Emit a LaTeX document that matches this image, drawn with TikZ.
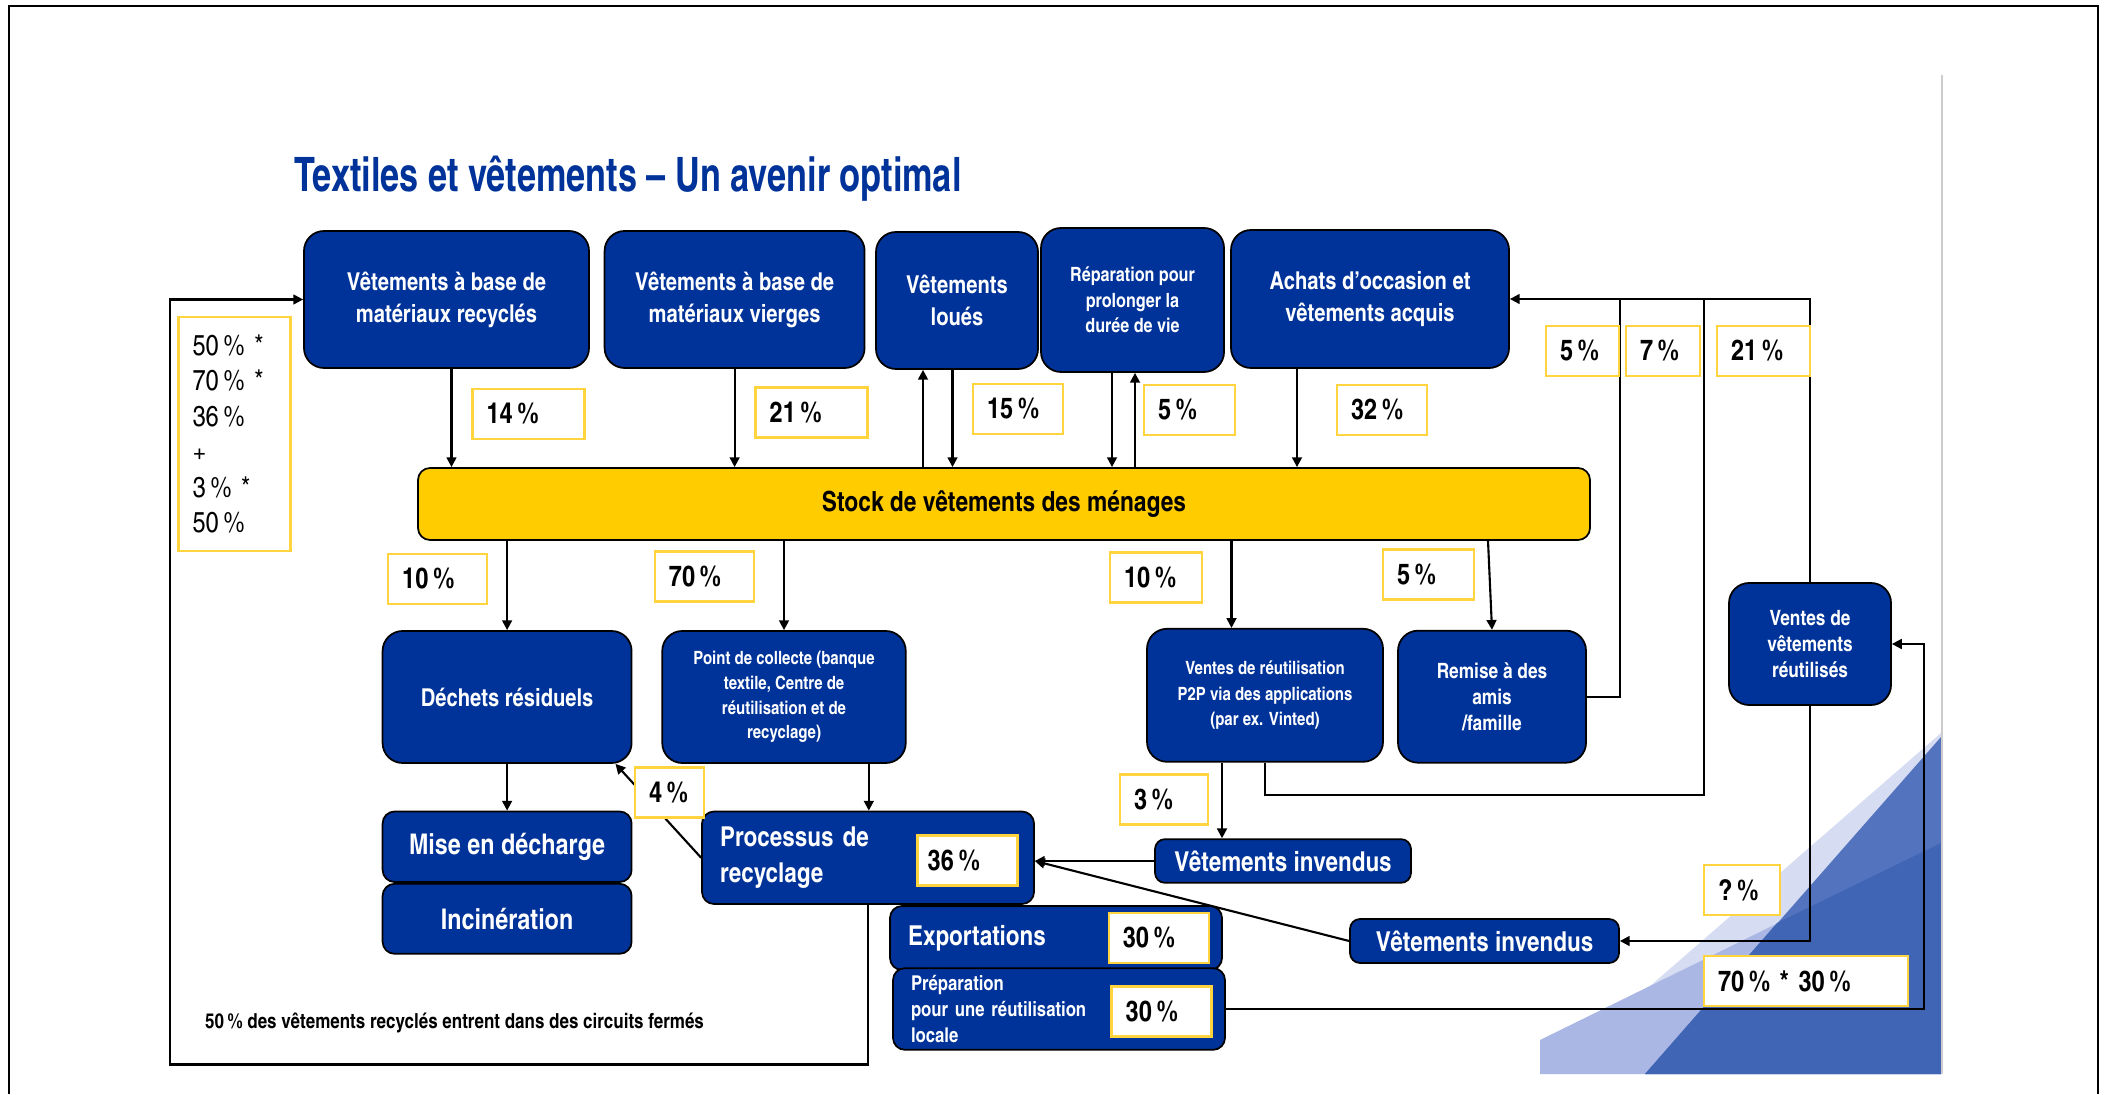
\documentclass[tikz,border=0pt]{standalone}
\usepackage{fontspec}
\setmainfont{texgyreheroscn}[Extension=.otf, UprightFont=*-regular, BoldFont=*-bold,
  ItalicFont=*-italic, BoldItalicFont=*-bolditalic]
\usepackage{graphicx}
\usepackage{xcolor}
\usetikzlibrary{arrows.meta,positioning}
\definecolor{boxblue}{HTML}{003399}
\definecolor{stockyellow}{HTML}{FFCC00}
\definecolor{pctyellow}{HTML}{FFD43F}
\definecolor{triA}{HTML}{D6DCF2}
\definecolor{triB}{HTML}{AAB7E4}
\definecolor{triC}{HTML}{5373BE}
\definecolor{triD}{HTML}{4065B4}

\begin{document}
\begin{tikzpicture}[
  box/.style={draw, line width=0.5pt, fill=boxblue, rounded corners=0.2cm, text=white, align=center, inner sep=0pt},
  thin/.style={rounded corners=0.12cm},
  mid/.style={font=\bfseries\fontsize{7}{9.1}\selectfont},
  sml/.style={font=\bfseries\fontsize{5.6}{7.3}\selectfont},
  lrg/.style={font=\bfseries\fontsize{7.8}{10.2}\selectfont},
  pct/.style={draw=pctyellow, line width=0.7pt, fill=white, align=left, inner xsep=0.14cm, inner ysep=0pt,
    minimum height=0.5cm, font=\bfseries\fontsize{8.2}{9.6}\selectfont},
  arr/.style={-{Triangle[length=2.8pt,width=2.8pt]}, line width=0.6pt},
  wire/.style={line width=0.6pt}
]
\useasboundingbox (0,0) rectangle (21.05,10.94);

\fill[triA] (15.49,0.20) -- (19.41,3.61) -- (19.41,0.20) -- cycle;
\fill[triB] (15.40,0.54) -- (19.41,2.51) -- (19.41,0.20) -- (15.40,0.20) -- cycle;
\fill[triC] (16.45,0.20) -- (19.41,3.57) -- (19.41,0.20) -- cycle;
\fill[triD] (16.45,0.20) -- (17.77,1.71) -- (19.41,2.51) -- (19.41,0.20) -- cycle;
\draw[black!20, line width=0.6pt] (19.42,10.19) -- (19.42,0.20);
\draw[line width=0.7pt] (0.09,0) -- (0.09,10.88) -- (20.98,10.88) -- (20.98,0);

\node[anchor=base west, inner sep=0pt, text=boxblue, font=\bfseries\fontsize{13.5}{16}\selectfont] (title) at (2.935,9.02)
  {\scalebox{0.88}[1]{Textiles et vêtements – Un avenir optimal}};

\node[box, mid, minimum width=2.85cm, minimum height=1.37cm] (rec) at (4.465,7.945) {Vêtements à base de\\matériaux recyclés};
\node[box, mid, minimum width=2.60cm, minimum height=1.37cm] (vier) at (7.346,7.945) {Vêtements à base de\\matériaux vierges};
\node[box, mid, minimum width=1.62cm, minimum height=1.37cm] (loue) at (9.57,7.935) {Vêtements\\loués};
\node[box, sml, minimum width=1.83cm, minimum height=1.44cm] (repa) at (11.325,7.94) {Réparation pour\\prolonger la\\durée de vie};
\node[box, mid, minimum width=2.78cm, minimum height=1.38cm] (occ) at (13.70,7.95) {Achats d'occasion et\\vêtements acquis};

\node[draw, line width=0.5pt, fill=stockyellow, rounded corners=0.12cm, minimum width=11.72cm, minimum height=0.72cm,
  font=\bfseries\fontsize{7.9}{9}\selectfont] (stock) at (10.04,5.90) {Stock de vêtements des ménages};

\node[box, mid, minimum width=2.49cm, minimum height=1.32cm] (dech) at (5.071,3.97) {Déchets résiduels};
\node[box, sml, font=\bfseries\fontsize{5.2}{7}\selectfont, minimum width=2.435cm, minimum height=1.32cm] (coll) at (7.84,3.97)
  {Point de collecte (banque\\textile, Centre de\\réutilisation et de\\recyclage)};
\node[box, sml, font=\bfseries\fontsize{5.2}{7.25}\selectfont, minimum width=2.36cm, minimum height=1.33cm] (p2p) at (12.65,3.987)
  {Ventes de réutilisation\\P2P via des applications\\(par ex. Vinted)};
\node[box, sml, font=\bfseries\fontsize{6}{7.5}\selectfont, minimum width=1.88cm, minimum height=1.32cm] (remise) at (14.92,3.973)
  {Remise à des\\amis\\/famille};
\node[box, sml, font=\bfseries\fontsize{6}{7.4}\selectfont, minimum width=1.62cm, minimum height=1.22cm] (vr) at (18.10,4.50)
  {Ventes de\\vêtements\\réutilisés};

\node[box, thin, lrg, font=\bfseries\fontsize{8.1}{10.2}\selectfont, minimum width=2.49cm, minimum height=0.705cm] (mise) at (5.071,2.4725) {Mise en décharge};
\node[box, thin, lrg, font=\bfseries\fontsize{8.1}{10.2}\selectfont, minimum width=2.49cm, minimum height=0.70cm] (inc) at (5.071,1.752) {Incinération};
\node[box, thin, lrg, align=left, text width=2.96cm, inner xsep=0.18cm, minimum height=0.925cm] (proc) at (8.68,2.3625)
  {Processus de\\recyclage};
\node[box, lrg, rounded corners=0.1cm, minimum width=2.56cm, minimum height=0.437cm] (inv1) at (12.83,2.33) {Vêtements invendus};
\node[box, lrg, rounded corners=0.1cm, minimum width=2.69cm, minimum height=0.44cm] (inv2) at (14.845,1.53) {Vêtements invendus};
\node[box, thin, lrg, align=left, text width=2.96cm, inner xsep=0.18cm, minimum height=0.64cm] (exp) at (10.56,1.56) {Exportations};
\node[box, thin, sml, font=\bfseries\fontsize{5.8}{7.5}\selectfont, align=left, text width=2.96cm, inner xsep=0.18cm,
  minimum height=0.817cm] (prep) at (10.59,0.85) {Préparation\\pour une réutilisation\\locale};

\draw[arr] ([xshift=0.05cm]rec.south) -- ([xshift=0.05cm]rec.south |- stock.north);
\draw[arr] (vier.south) -- (vier.south |- stock.north);
\draw[arr] ([xshift=-0.34cm]loue.south |- stock.north) -- ([xshift=-0.34cm]loue.south);
\draw[arr] ([xshift=-0.045cm]loue.south) -- ([xshift=-0.045cm]loue.south |- stock.north);
\draw[arr] ([xshift=-0.205cm]repa.south) -- ([xshift=-0.205cm]repa.south |- stock.north);
\draw[arr] ([xshift=0.025cm]repa.south |- stock.north) -- ([xshift=0.025cm]repa.south);
\draw[arr] ([xshift=-0.73cm]occ.south) -- ([xshift=-0.73cm]occ.south |- stock.north);

\draw[arr] (dech.north |- stock.south) -- (dech.north);
\draw[arr] (coll.north |- stock.south) -- (coll.north);
\draw[arr] ([xshift=-0.335cm]p2p.north |- stock.south) -- ([xshift=-0.335cm]p2p.north);
\draw[arr] ([xshift=-0.04cm]remise.north |- stock.south) -- (remise.north);

\draw[arr] (dech) -- (mise);
\draw[arr] ([xshift=0.848cm]coll.south) -- ([xshift=0.848cm]coll.south |- proc.north);
\draw[arr] (proc.west) -- ([xshift=-0.17cm]dech.south east);
\draw[arr] ([xshift=-0.43cm]p2p.south) -- ([xshift=-0.43cm]p2p.south |- inv1.north);
\draw[arr] (inv1.west) -- (inv1.west -| proc.east);
\draw[arr] (inv2.west) -- (inv1.west -| proc.east);

\coordinate (k5) at (16.20,7.95);
\coordinate (k7) at (17.037,7.95);
\coordinate (kp) at (19.237,4.50);
\coordinate (lp) at (1.70,0.295);
\draw[arr] (vr.north) |- (occ.east);
\draw[wire] (remise.east) -| (k5);
\draw[wire] (p2p.south) -- ++(0,-0.32) -| (k7);
\draw[arr] (vr.south) |- (inv2.east);
\draw[arr] (prep.east) -| (kp) -- (vr.east);
\draw[arr] (proc.south) |- (lp) |- (rec.west);

\node[pct, font=\fontsize{8.2}{10.1}\selectfont, text width=0.84cm, minimum height=2.34cm] (loop) at (2.346,6.60)
  {50\,\% *\\70\,\% *\\36\,\%\\+\\3\,\% *\\50\,\%};
\node[pct, text width=0.84cm] (p14) at (5.286,6.80) {14\,\%};
\node[pct, text width=0.84cm] (p21a) at (8.116,6.817) {21\,\%};
\node[pct, text width=0.62cm] (p15) at (10.18,6.85) {15\,\%};
\node[pct, text width=0.63cm] (p5a) at (11.895,6.84) {5\,\%};
\node[pct, text width=0.62cm] (p32) at (13.82,6.84) {32\,\%};
\node[pct, text width=0.45cm] (p5b) at (15.825,7.43) {5\,\%};
\node[pct, text width=0.46cm] (p7) at (16.63,7.43) {7\,\%};
\node[pct, text width=0.65cm] (p21b) at (17.635,7.43) {21\,\%};
\node[pct, text width=0.71cm] (p10a) at (4.377,5.152) {10\,\%};
\node[pct, text width=0.71cm] (p70) at (7.044,5.175) {70\,\%};
\node[pct, text width=0.64cm] (p10b) at (11.56,5.165) {10\,\%};
\node[pct, text width=0.63cm] (p5c) at (14.285,5.195) {5\,\%};
\node[pct, text width=0.41cm] (p4) at (6.695,3.014) {4\,\%};
\node[pct, text width=0.60cm] (p3) at (11.64,2.945) {3\,\%};
\node[pct, inner xsep=0.1cm, text width=0.80cm] (p36) at (9.677,2.335) {36\,\%};
\node[pct, text width=0.72cm] (p30a) at (11.588,1.56) {30\,\%};
\node[pct, text width=0.72cm] (p30b) at (11.617,0.826) {30\,\%};
\node[pct, text width=0.48cm] (pq) at (17.42,2.04) {?\,\%};
\node[pct, text width=1.76cm] (p7030) at (18.06,1.13) {70\,\% * 30\,\%};

\node[anchor=west, inner sep=0pt, font=\bfseries\fontsize{5.9}{7}\selectfont] (note) at (2.045,0.712)
  {50\,\% des vêtements recyclés entrent dans des circuits fermés};
\end{tikzpicture}
\end{document}
